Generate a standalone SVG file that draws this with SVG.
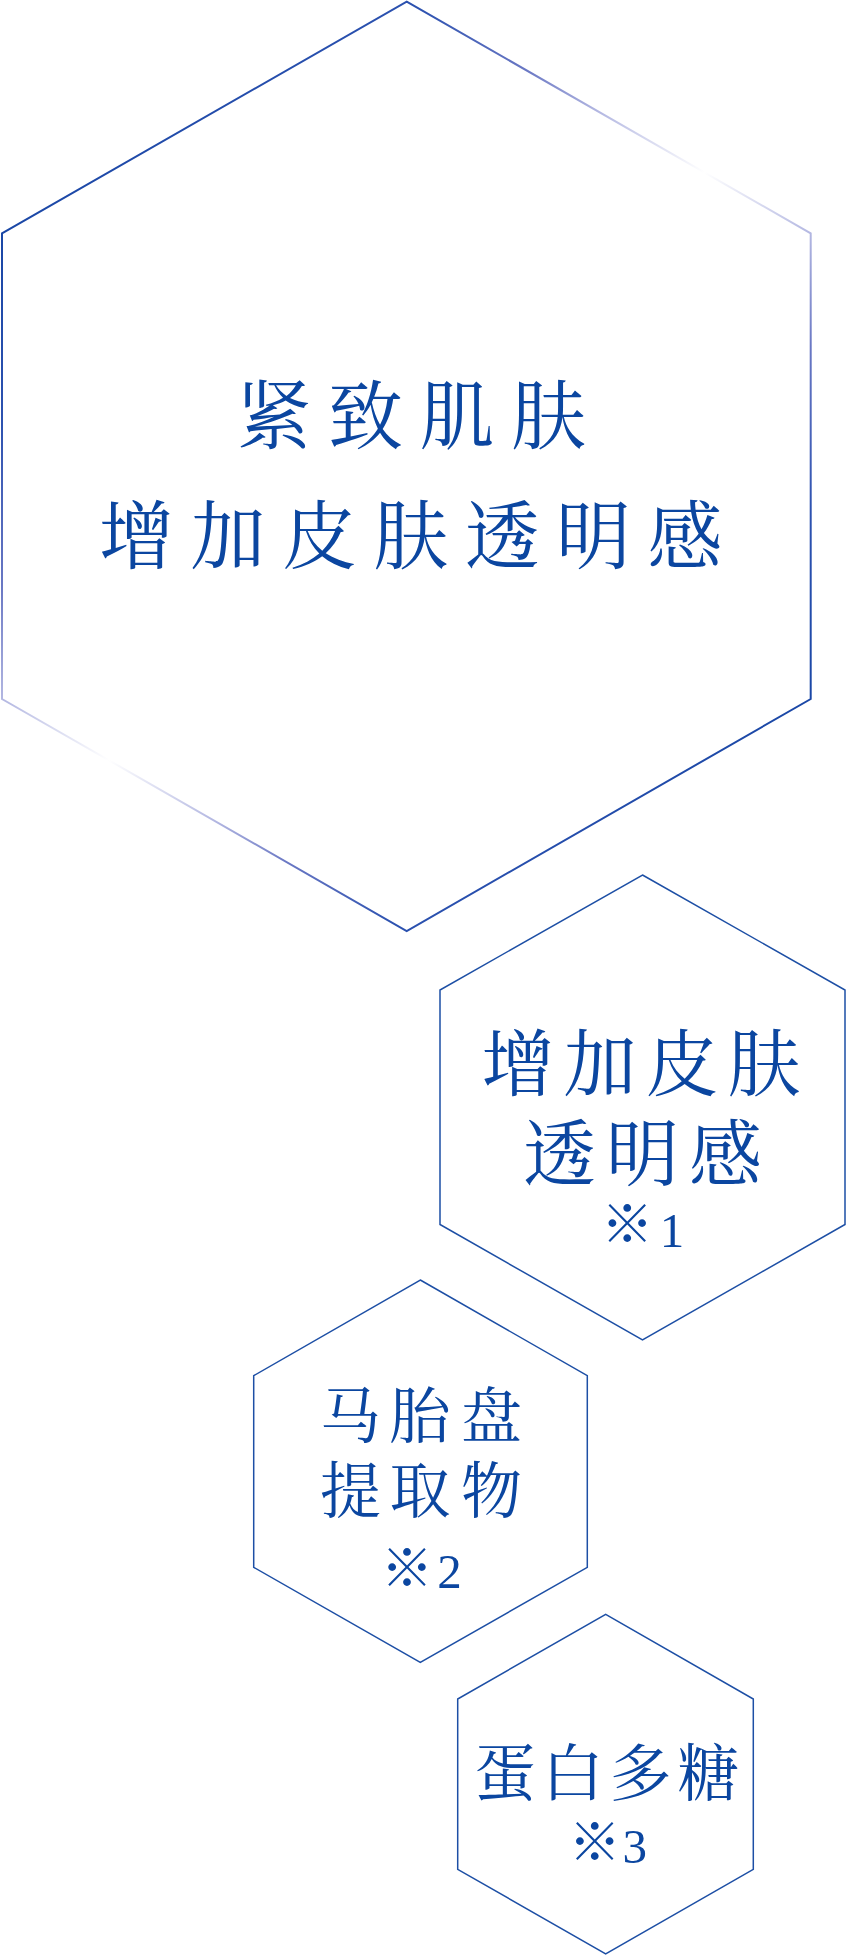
<svg xmlns="http://www.w3.org/2000/svg" width="847" height="1956" viewBox="0 0 847 1956">
  <style>
    .hex { fill: none; stroke: #1d4fa5; stroke-width: 1.5; stroke-linejoin: miter; }
    .big { fill: none; stroke: url(#bigGrad); stroke-width: 2; stroke-linejoin: miter; }
    .cjk { font-family: "Noto Serif CJK SC", "Noto Sans CJK SC", sans-serif; fill: #0b46a0; text-anchor: middle; }
    .l1 { font-size: 75px; }
    .l2 { font-size: 73px; }
    .l3 { font-size: 61px; }
    .l4 { font-size: 62px; }
    .mark { font-family: "Noto Serif CJK SC", "Noto Sans CJK SC", sans-serif; font-weight: 200; font-size: 52px; }
    .num { font-family: "Liberation Serif", "Times New Roman", serif; font-size: 49px; }
    .note { fill: #0b46a0; text-anchor: middle; }
  </style>
  <defs>
    <linearGradient id="bigGrad" gradientUnits="userSpaceOnUse" x1="90.5" y1="146" x2="722.3" y2="786.8">
      <stop offset="0" stop-color="#1a47a6"/>
      <stop offset="0.15" stop-color="#2d52b0"/>
      <stop offset="0.28" stop-color="#6a78c4"/>
      <stop offset="0.37" stop-color="#b4b8e2"/>
      <stop offset="0.5" stop-color="#ffffff"/>
      <stop offset="0.63" stop-color="#b4b8e2"/>
      <stop offset="0.72" stop-color="#6a78c4"/>
      <stop offset="0.85" stop-color="#2d52b0"/>
      <stop offset="1" stop-color="#1a47a6"/>
    </linearGradient>
  </defs>
  <rect width="847" height="1956" fill="#ffffff"/>

  <g id="node-main">
    <polygon class="big" points="406.7,1.7 810.7,233.3 810.7,699 406.7,931 2,699 2,233.3"/>
    <text class="cjk l1" x="274 365.5 457 548.5" y="443">紧致肌肤</text>
    <text class="cjk l1" x="136.6 228 319.4 410.8 502.2 593.6 685" y="563">增加皮肤透明感</text>
  </g>

  <g id="node-transparency">
    <polygon class="hex" points="642.5,875 845,990 845,1224.5 642.5,1340 440,1224.5 440,990"/>
    <text class="cjk l2" x="518 600 682 764" y="1090">增加皮肤</text>
    <text class="cjk l2" x="559.5 642.5 725.5" y="1180">透明感</text>
    <text class="note"><tspan class="mark" x="627.3" y="1243">※</tspan><tspan class="num" x="672" y="1246.5">1</tspan></text>
  </g>

  <g id="node-placenta">
    <polygon class="hex" points="420.3,1280 587.3,1375.7 587.3,1567.3 420.3,1662.3 253.7,1567.3 253.7,1375.7"/>
    <text class="cjk l3" x="350.5 420 491.5" y="1437.5">马胎盘</text>
    <text class="cjk l3" x="350.5 420 491.5" y="1512.5">提取物</text>
    <text class="note"><tspan class="mark" x="407" y="1587">※</tspan><tspan class="num" x="449.5" y="1588.3">2</tspan></text>
  </g>

  <g id="node-proteoglycan">
    <polygon class="hex" points="605.7,1614.3 753.3,1699 753.3,1869.3 605.7,1954 457.7,1869.3 457.7,1699"/>
    <text class="cjk l4" x="505 572.8 640.6 708.4" y="1796">蛋白多糖</text>
    <text class="note"><tspan class="mark" x="594.7" y="1860.5">※</tspan><tspan class="num" x="634.8" y="1863">3</tspan></text>
  </g>

  <g id="connectors"/>
</svg>
